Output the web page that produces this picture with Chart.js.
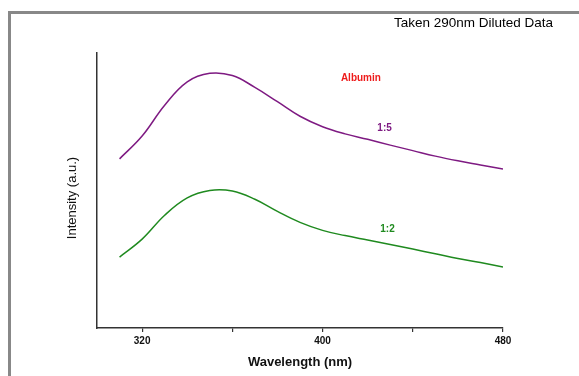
<!DOCTYPE html>
<html>
<head>
<meta charset="utf-8">
<script src="https://cdn.jsdelivr.net/npm/chart.js@4"></script>
<style>
    html, body { margin: 0; padding: 0; background: #fff; }
    #wrap { width: 579px; height: 376px; }
</style>
</head>
<body>
<div id="wrap"><canvas id="chart" width="579" height="376"></canvas></div>
<script>
// --- Data ---
const wavelengths = [310, 320, 330, 340, 350, 360, 370, 380, 390, 400, 410, 420, 430, 440, 450, 460, 470, 480];
const ratio15 = [61.5, 69.8, 81.0, 89.5, 92.6, 91.8, 87.5, 82.3, 77.0, 73.2, 70.6, 68.6, 66.5, 64.5, 62.5, 60.8, 59.3, 57.8];
const ratio12 = [25.8, 32.3, 41.0, 47.3, 50.0, 49.8, 46.8, 42.4, 38.4, 35.5, 33.6, 32.0, 30.4, 28.7, 27.0, 25.3, 23.8, 22.2];
const xTicks = [320, 360, 400, 440, 480];
const xLabeled = [320, 400, 480];

const FONT = "'Liberation Sans', Arial, sans-serif";
const PURPLE = '#7E1A82';
const GREEN = '#1F8A1F';

const toPoints = vals => wavelengths.map((w, i) => ({ x: w, y: vals[i] }));

// frame, captions and axis titles
const decor = {
    id: 'decor',
    beforeDraw(chart) {
        const ctx = chart.ctx;
        ctx.save();
        ctx.fillStyle = '#888';
        ctx.fillRect(8, 11, 571, 3);
        ctx.fillRect(8, 11, 3, 365);
        ctx.restore();
    },
    afterDraw(chart) {
        const { ctx, scales: { x, y } } = chart;
        ctx.save();
        ctx.textBaseline = 'middle';
        ctx.textAlign = 'right';
        ctx.fillStyle = '#000';
        ctx.font = '13.5px ' + FONT;
        ctx.fillText('Taken 290nm Diluted Data', 553, 23);

        ctx.textAlign = 'center';
        ctx.font = 'bold 10px ' + FONT;
        ctx.fillStyle = '#ee1c1c';
        ctx.fillText('Albumin', x.getPixelForValue(417), y.getPixelForValue(91));
        ctx.fillStyle = PURPLE;
        ctx.fillText('1:5', x.getPixelForValue(427.5), y.getPixelForValue(72.5));
        ctx.fillStyle = GREEN;
        ctx.fillText('1:2', x.getPixelForValue(428.8), y.getPixelForValue(36));

        ctx.fillStyle = '#111';
        ctx.font = 'bold 13px ' + FONT;
        ctx.fillText('Wavelength (nm)', 300, 362);
        ctx.font = '13px ' + FONT;
        ctx.translate(72, 198);
        ctx.rotate(-Math.PI / 2);
        ctx.fillText('Intensity (a.u.)', 0, 0);
        ctx.restore();
    }
};

new Chart(document.getElementById('chart'), {
    type: 'line',
    data: {
        datasets: [
            {
                label: '1:5',
                data: toPoints(ratio15),
                borderColor: PURPLE,
                borderWidth: 1.5,
                pointRadius: 0,
                tension: 0.4,
            },
            {
                label: '1:2',
                data: toPoints(ratio12),
                borderColor: GREEN,
                borderWidth: 1.5,
                pointRadius: 0,
                tension: 0.4,
            }
        ]
    },
    options: {
        responsive: false,
        animation: false,
        layout: { padding: { left: 97, right: 76, top: 53, bottom: 0 } },
        plugins: { legend: { display: false }, tooltip: { enabled: false } },
        scales: {
            x: {
                type: 'linear',
                min: 300,
                max: 480,
                afterBuildTicks: s => { s.ticks = xTicks.map(v => ({ value: v })); },
                afterFit: s => { s.height = 48; },
                border: { display: true, color: '#333', width: 1.5 },
                grid: { drawOnChartArea: false, tickLength: 4, color: '#333', lineWidth: 1.2 },
                ticks: {
                    autoSkip: false,
                    maxRotation: 0,
                    padding: 3,
                    color: '#111',
                    font: { family: FONT, size: 10, weight: 'bold' },
                    callback: v => xLabeled.includes(v) ? String(v) : ''
                }
            },
            y: {
                min: 0,
                max: 100,
                afterFit: s => { s.width = 0; },
                border: { display: true, color: '#333', width: 1.5 },
                grid: { display: false },
                ticks: { display: false }
            }
        }
    },
    plugins: [decor]
});
</script>
</body>
</html>
